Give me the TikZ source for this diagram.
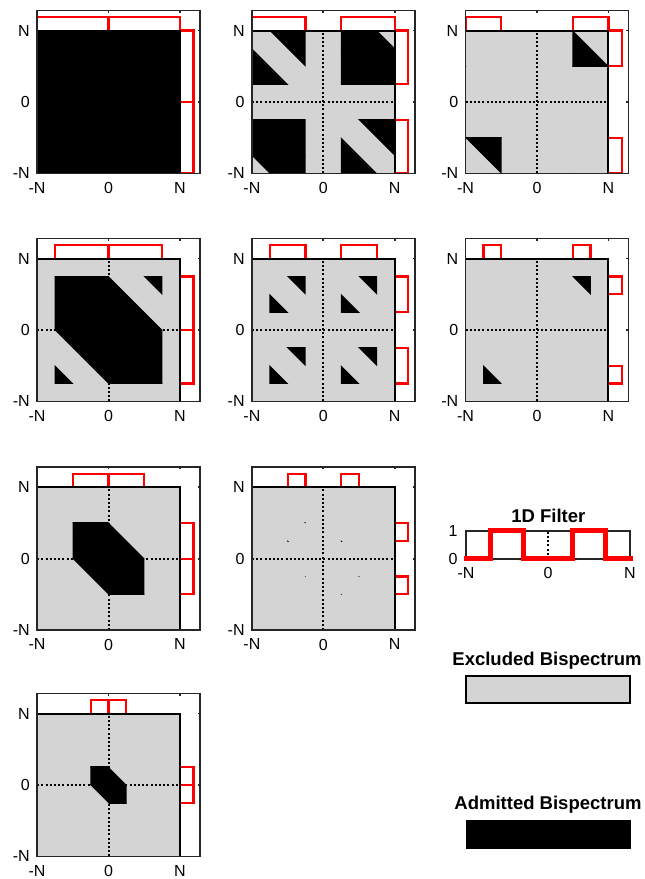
\documentclass[tikz,border=0pt]{standalone}
\usepackage{fontspec}
\setmainfont{Liberation Sans}
\definecolor{exclgray}{RGB}{212,212,212}
\definecolor{axisgray}{RGB}{38,38,38}
\definecolor{filtred}{RGB}{255,0,0}
\tikzset{
  boxline/.style={draw=axisgray, line width=1.7pt},
  innerline/.style={draw=black, line width=2pt},
  axisdot/.style={black, line width=2pt, dash pattern=on 2pt off 2.2pt},
  filtline/.style={draw=filtred, line width=2.2pt},
  ticklab/.style={font=\fontsize{16}{19}\selectfont, inner sep=0pt},
  titlelab/.style={font=\fontsize{18.5}{22}\selectfont\bfseries, inner sep=0pt},
}
% #1 name, #2/#3 centre, #4/#5 edges of the 1D pass band (in units of N)
\newcommand{\bispanel}[5]{%
  \begin{scope}[shift={(#2,#3)}, x=71.4pt, y=71.4pt]
    \fill[exclgray] (-1,-1) rectangle (1,1);
    \draw[axisdot] (0,-1) -- (0,1);
    \draw[axisdot] (-1,0) -- (1,0);
    % admitted: |k1|, |k2| and the wrapped |k1+k2| all in the band
    \foreach \sx in {-1,1} {
      \foreach \sy in {-1,1} {
        \foreach \lo/\hi in {#4/#5, -#5/-#4, 2-#5/2-#4, -2+#4/-2+#5} {
          \begin{scope}
            \clip ({\sx*(#4-0.004)},{\sy*(#4-0.004)}) rectangle ({\sx*(#5+0.004)},{\sy*(#5+0.004)});
            \fill[black] ({\lo-0.004-3},3) -- ({\lo-0.004+3},-3) -- ({\hi+0.004+3},-3) -- ({\hi+0.004-3},3) -- cycle;
          \end{scope}
        }
      }
    }
    % 1D filter on top and right
    \draw[filtline] (-#5,1) -- (-#5,1.19) -- (-#4,1.19) -- (-#4,1);
    \draw[filtline] (#4,1) -- (#4,1.19) -- (#5,1.19) -- (#5,1);
    \draw[filtline] (1,#5) -- (1.19,#5) -- (1.19,#4) -- (1,#4);
    \draw[filtline] (1,-#4) -- (1.19,-#4) -- (1.19,-#5) -- (1,-#5);
    \draw[innerline] (-1,1) -- (1,1) -- (1,-1);
    \draw[boxline] (-1,-1) rectangle (1.28,1.28);
    \draw[boxline] (0,1.28) -- (0,1.25) (1,1.28) -- (1,1.25);
    \draw[boxline] (1.28,0) -- (1.25,0) (1.28,1) -- (1.25,1);
    \node[ticklab, anchor=east] (#1-yl) at (-1.1,-1) {-N};
    \node[ticklab, anchor=east] (#1-yz) at (-1.1,0) {0};
    \node[ticklab, anchor=east] (#1-yh) at (-1.1,1) {N};
    \node[ticklab, anchor=north] (#1-xl) at (-1,-1.12) {-N};
    \node[ticklab, anchor=north] (#1-xz) at (0,-1.12) {0};
    \node[ticklab, anchor=north] (#1-xh) at (1,-1.12) {N};
  \end{scope}
}

\begin{document}
\begin{tikzpicture}[x=1pt, y=1pt]
  \useasboundingbox (0,0) rectangle (645,879);
  \bispanel{pa}{108.5}{777}{0}{1}
  \bispanel{pb}{323.3}{777}{0.25}{1}
  \bispanel{pc}{537}{777}{0.5}{1}
  \bispanel{pd}{108.5}{549}{0}{0.75}
  \bispanel{pe}{323.3}{549}{0.25}{0.75}
  \bispanel{pf}{537}{549}{0.5}{0.75}
  \bispanel{pg}{108.5}{320.3}{0}{0.5}
  \bispanel{ph}{323.3}{320.3}{0.25}{0.5}
  \bispanel{pi}{108.5}{94}{0}{0.25}

  % 1D filter legend
  \node[titlelab] (filttitle) at (548.3,363) {1D Filter};
  \begin{scope}[shift={(548,320)}, x=82pt, y=28pt]
    \draw[draw=axisgray, line width=1.2pt] (-1,0) rectangle (1,1);
    \draw[axisdot] (0,0) -- (0,1);
    \draw[filtred, line width=5pt, line cap=rect] (-1,0) -- (-0.7,0) -- (-0.7,1) -- (-0.3,1) -- (-0.3,0)
      -- (0.3,0) -- (0.3,1) -- (0.7,1) -- (0.7,0) -- (1,0);
    \node[ticklab, anchor=east] (filtone) at (-1.1,1) {1};
    \node[ticklab, anchor=east] (filtzero) at (-1.1,0) {0};
    \node[ticklab, anchor=north] (filtl) at (-1,-0.3) {-N};
    \node[ticklab, anchor=north] (filtz) at (0,-0.3) {0};
    \node[ticklab, anchor=north] (filth) at (1,-0.3) {N};
  \end{scope}

  % excluded / admitted legend
  \node[titlelab] (excltitle) at (547,218) {Excluded Bispectrum};
  \fill[exclgray, draw=black, line width=1.6pt] (466,176) rectangle (630,203);
  \node[titlelab] (admtitle) at (548,74) {Admitted Bispectrum};
  \fill[black] (466,30) rectangle (631,59);
\end{tikzpicture}
\end{document}
